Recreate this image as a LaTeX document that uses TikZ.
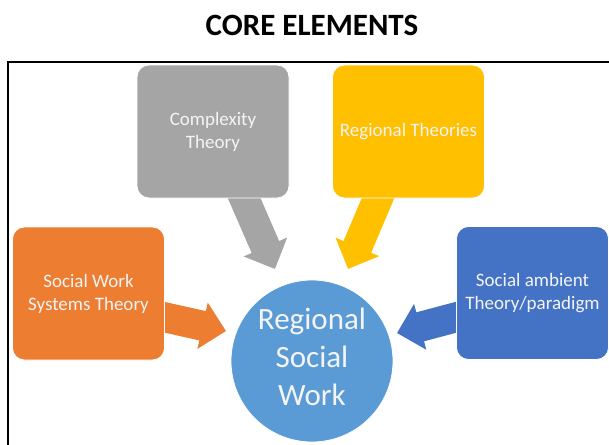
\documentclass[tikz,border=0pt]{standalone}
\usepackage{fontspec}
\setmainfont{Carlito}
\usetikzlibrary{arrows.meta}
\definecolor{cgray}{HTML}{A5A5A5}
\definecolor{cyellow}{HTML}{FFC000}
\definecolor{corange}{HTML}{ED7D31}
\definecolor{cblue}{HTML}{4472C4}
\definecolor{ccircle}{HTML}{5B9BD5}
\definecolor{ctext}{HTML}{F4F4F4}
\begin{document}
\begin{tikzpicture}[x=1pt,y=-1pt,
  box/.style={rounded corners=12pt, minimum width=152pt, minimum height=133pt,
    text=ctext, font=\fontsize{19}{23}\selectfont, align=center,
    draw=white, line width=0.8pt, inner sep=0pt},
  barrow/.style={line width=30pt, -{Triangle[length=24pt,width=46pt]}}]
\useasboundingbox (0,0) rectangle (609,444);
\clip (0,0) rectangle (609,444);
\node[font=\bfseries\fontsize{31}{36}\selectfont] (title) at (312,25) {CORE ELEMENTS};
\draw[line width=2pt] (8,470) -- (8,62) -- (630,62);
% arrows
\coordinate (gs) at (238,184); \coordinate (gt) at (275,269);
\coordinate (ys) at (384,184); \coordinate (yt) at (348,269);
\coordinate (os) at (150,314); \coordinate (ot) at (226,331);
\coordinate (bs) at (472,313); \coordinate (bt) at (397,333);
\draw[barrow, cgray] (gs) -- (gt);
\draw[barrow, cyellow] (ys) -- (yt);
\draw[barrow, corange] (os) -- (ot);
\draw[barrow, cblue] (bs) -- (bt);
% boxes
\node[box, fill=cgray] (cx) at (213,131.5) {Complexity\\Theory};
\node[box, fill=cyellow] (rt) at (408.5,131.5) {Regional Theories};
\node[box, fill=corange] (sw) at (88.5,293.5) {Social Work\\Systems Theory};
\node[box, fill=cblue] (sa) at (532.5,293) {Social ambient\\Theory/paradigm};
\node[circle, fill=ccircle, draw=white, line width=0.8pt, minimum size=162pt, inner sep=0pt] (rsw) at (312,361) {};
\node[text=ctext, font=\fontsize{31}{38}\selectfont, align=center] (rswt) at (312,357) {Regional\\Social\\Work};
\end{tikzpicture}
\end{document}
